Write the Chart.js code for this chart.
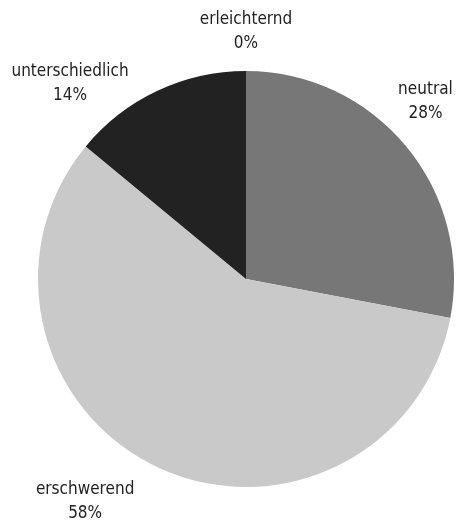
<!DOCTYPE html>
<html>
<head>
<meta charset="utf-8">
<script src="https://cdn.jsdelivr.net/npm/chart.js@4"></script>
<style>
  html, body { margin: 0; padding: 0; background: #fff; }
  #wrap { width: 457px; height: 522px; }
</style>
</head>
<body>
<div id="wrap"><canvas id="kreis"></canvas></div>
<script>
// Anteile (Prozent), im Uhrzeigersinn ab 12 Uhr
const kategorien = ["neutral", "erschwerend", "unterschiedlich", "erleichternd"];
const anteile = [28, 58, 14, 0];
const farben = ["#777777", "#c9c9c9", "#222222", "#ffffff"];

// Beschriftung außerhalb der Segmente: Winkelkorrektur (Grad) und Abstand zur Mitte
const labelWinkel = [-5, 10.6, -16.8, 0];
const labelAbstand = [252, 275, 263, 247];

const aussenLabels = {
  id: "aussenLabels",
  afterDraw(chart) {
    const ctx = chart.ctx;
    const meta = chart.getDatasetMeta(0);
    const summe = anteile.reduce((a, b) => a + b, 0);
    ctx.save();
    ctx.font = '17px "Liberation Sans Narrow", "DejaVu Sans Condensed", sans-serif';
    ctx.fillStyle = "#222";
    ctx.textAlign = "center";
    ctx.textBaseline = "middle";
    meta.data.forEach((arc, i) => {
      const mitte = (arc.startAngle + arc.endAngle) / 2 + labelWinkel[i] * Math.PI / 180;
      const x = arc.x + Math.cos(mitte) * labelAbstand[i];
      const y = arc.y + Math.sin(mitte) * labelAbstand[i];
      const prozent = Math.round(anteile[i] / summe * 100) + "%";
      ctx.fillText(kategorien[i], x, y - 12);
      ctx.fillText(prozent, x, y + 12);
    });
    ctx.restore();
  }
};

new Chart(document.getElementById("kreis").getContext("2d"), {
  type: "pie",
  data: {
    labels: kategorien,
    datasets: [{
      data: anteile,
      backgroundColor: farben,
      borderWidth: 0
    }]
  },
  options: {
    responsive: true,
    maintainAspectRatio: false,
    animation: false,
    layout: { padding: { left: 38, right: 3, top: 71, bottom: 35 } },
    plugins: {
      legend: { display: false },
      tooltip: { enabled: false }
    }
  },
  plugins: [aussenLabels]
});
</script>
</body>
</html>
